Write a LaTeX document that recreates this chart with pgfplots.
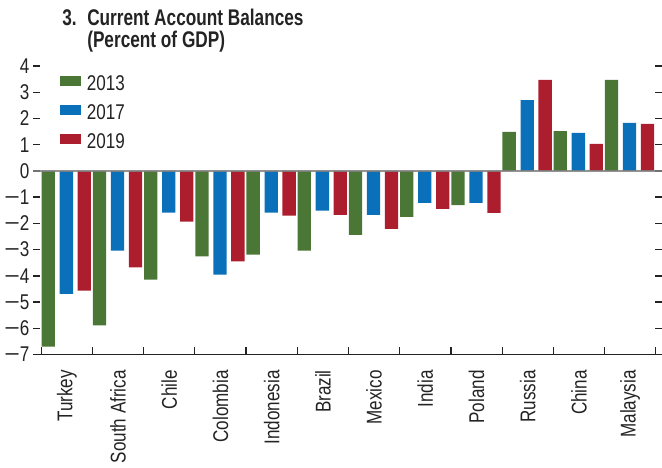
\documentclass[border=0pt]{standalone}
\usepackage{pgfplots}
\pgfplotsset{compat=1.18}
\usepackage{fontspec}
\setmainfont{Liberation Sans}[FakeStretch=0.8]
\newfontfamily\titlefont{Liberation Sans}[FakeStretch=0.76]
\newfontfamily\minusfont{Liberation Sans}[FakeStretch=1.25]
\newcommand\mn{{\minusfont −}}
\definecolor{cgreen}{RGB}{74,119,53}
\definecolor{cblue}{RGB}{10,112,186}
\definecolor{cred}{RGB}{172,30,45}
\definecolor{ctext}{RGB}{35,35,35}
\begin{document}
\begin{tikzpicture}
\path[use as bounding box] (-24.75pt,-85.1pt) rectangle (471.75pt,265.9pt);
\begin{axis}[
  at={(0,0)}, anchor=south west,
  width=471.75pt, height=216.4pt, scale only axis,
  xmin=-0.662, xmax=11.623, ymin=-7, ymax=4,
  ybar, bar width=0.26,
  separate axis lines,
  axis x line*=bottom,
  y axis line style={draw=none},
  x axis line style={draw=ctext, line width=0.9pt},
  tick align=inside,
  ytick pos=both,
  ytick={-7,-6,-5,-4,-3,-2,-1,0,1,2,3,4},
  yticklabels={\mn7,\mn6,\mn5,\mn4,\mn3,\mn2,\mn1,0,1,2,3,4},
  major tick length=4.9pt,
  ytick style={draw=ctext, line width=1pt},
  xtick={0,...,11},
  xticklabels={Turkey,South Africa,Chile,Colombia,Indonesia,Brazil,Mexico,India,Poland,Russia,China,Malaysia},
  major x tick style={draw=none},
  minor xtick={-0.5,0.5,...,11.5},
  minor tick length=6pt,
  minor x tick style={draw=ctext, line width=0.9pt},
  tick label style={font=\fontsize{16}{18}\selectfont, text=ctext},
  yticklabel style={anchor=east, inner sep=0pt, xshift=-2.5pt},
  xticklabel style={yshift=-11.6pt, rotate=90, anchor=east, inner sep=0pt},
  legend style={at={(rel axis cs:0.0429,0.968)}, anchor=north west, draw=none, fill=none,
    inner sep=0pt, outer sep=0pt, row sep=9.1pt, column sep=0pt,
    nodes={inner sep=0pt, font=\fontsize{16}{18}\selectfont, text=ctext},
    /tikz/every odd column/.append style={column sep=4.5pt}},
  legend cell align=left,
  legend image code/.code={\fill[#1] (0pt,-2pt) rectangle (15.75pt,5.5pt);},
]
\addplot[fill=cgreen, draw=none, bar shift=-0.363] coordinates {
 (0,-6.70) (1,-5.89) (2,-4.14) (3,-3.26) (4,-3.19) (5,-3.04)
 (6,-2.44) (7,-1.75) (8,-1.30) (9,1.49) (10,1.52) (11,3.47)};
\addplot[fill=cblue, draw=none, bar shift=-0.01] coordinates {
 (0,-4.69) (1,-3.04) (2,-1.59) (3,-3.95) (4,-1.59) (5,-1.51)
 (6,-1.68) (7,-1.22) (8,-1.22) (9,2.70) (10,1.45) (11,1.83)};
\addplot[fill=cred, draw=none, bar shift=0.34] coordinates {
 (0,-4.56) (1,-3.68) (2,-1.93) (3,-3.45) (4,-1.70) (5,-1.68)
 (6,-2.21) (7,-1.45) (8,-1.60) (9,3.47) (10,1.03) (11,1.79)};
\legend{2013,2017,2019}
\draw[color=black!50, line width=1.5pt, opacity=0.85] (axis cs:-0.662,0) -- (axis cs:11.623,0);
\end{axis}
\node[anchor=base west, inner sep=0pt, text=ctext, font=\titlefont\bfseries\fontsize{17}{19}\selectfont] at (21.75pt,247.1pt) {3.};
\node[anchor=base west, inner sep=0pt, text=ctext, font=\titlefont\bfseries\fontsize{17}{19}\selectfont] at (40.5pt,247.1pt) {Current Account Balances};
\node[anchor=base west, inner sep=0pt, text=ctext, font=\titlefont\bfseries\fontsize{17}{19}\selectfont] at (40.5pt,230.6pt) {(Percent of GDP)};
\end{tikzpicture}
\end{document}
